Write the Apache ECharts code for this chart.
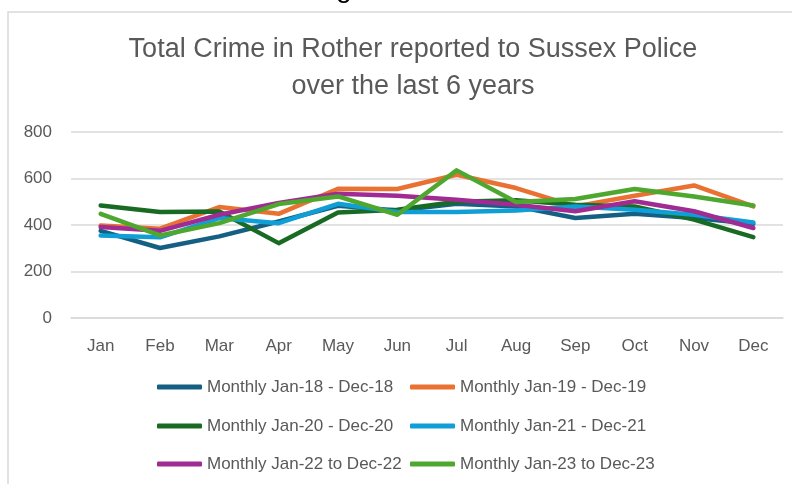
<!DOCTYPE html>
<html>
<head>
<meta charset="utf-8">
<script src="https://cdn.jsdelivr.net/npm/echarts@6/dist/echarts.min.js"></script>
<style>
  html, body { margin: 0; padding: 0; background: #fff; }
  #chart { width: 792px; height: 484px; }
</style>
</head>
<body>
<div id="chart"></div>
<script>
const months = ['Jan','Feb','Mar','Apr','May','Jun','Jul','Aug','Sep','Oct','Nov','Dec'];
const seriesNames = [
  'Monthly Jan-18 - Dec-18',
  'Monthly Jan-19 - Dec-19',
  'Monthly Jan-20 - Dec-20',
  'Monthly Jan-21 - Dec-21',
  'Monthly Jan-22 to Dec-22',
  'Monthly Jan-23 to Dec-23'
];
const y2018 = [375, 301, 351, 415, 483, 462, 491, 480, 430, 448, 430, 405];
const y2019 = [398, 384, 477, 448, 556, 555, 616, 559, 480, 526, 570, 480];
const y2020 = [484, 456, 458, 322, 454, 466, 500, 506, 487, 480, 423, 348];
const y2021 = [355, 347, 430, 408, 491, 456, 456, 462, 480, 466, 444, 411];
const y2022 = [391, 375, 444, 495, 534, 526, 509, 487, 459, 502, 459, 387];
const y2023 = [448, 355, 408, 490, 523, 444, 635, 499, 512, 555, 523, 484];
const yTicks = [0, 200, 400, 600, 800];

const colors = ['#156082', '#E97132', '#196B24', '#0F9ED5', '#A02B93', '#4EA72E'];
const allData = [y2018, y2019, y2020, y2021, y2022, y2023];
const fontFam = '"Liberation Sans", Arial, sans-serif';

// legend placement: column lefts and row centres
const legendCols = [157, 410];
const legendRows = [387, 426, 464];

const legends = seriesNames.map((name, i) => ({
  orient: 'horizontal',
  left: legendCols[i % 2],
  top: legendRows[Math.floor(i / 2)] - 10,
  padding: 0,
  itemWidth: 45,
  itemHeight: 5,
  icon: 'roundRect',
  data: [name],
  textStyle: { fontFamily: fontFam, fontSize: 17, color: '#595959', lineHeight: 20 }
}));

const chart = echarts.init(document.getElementById('chart'), null, { renderer: 'canvas' });
chart.setOption({
  animation: false,
  backgroundColor: '#ffffff',
  color: colors,
  title: {
    text: 'Total Crime in Rother reported to Sussex Police\nover the last 6 years',
    left: 408,
    textAlign: 'center',
    top: 26,
    textStyle: { fontFamily: fontFam, fontSize: 27, fontWeight: 'normal', color: '#595959', lineHeight: 37 }
  },
  graphic: [
    { type: 'rect', shape: { x: 8, y: 12, width: 820, height: 520 }, style: { fill: 'none', stroke: '#d9d9d9', lineWidth: 1.5 }, silent: true },
    { type: 'text', x: 336, y: -11, style: { text: 'g', fontSize: 28, fontFamily: fontFam, fill: '#000', verticalAlign: 'middle' }, silent: true }
  ],
  legend: legends,
  grid: { left: 71, right: 9, top: 132, bottom: 166, containLabel: false },
  xAxis: {
    type: 'category',
    data: months,
    boundaryGap: true,
    axisLine: { show: true, lineStyle: { color: '#d9d9d9', width: 1.5 } },
    axisTick: { show: false },
    axisLabel: { fontFamily: fontFam, fontSize: 17, color: '#595959', margin: 20 }
  },
  yAxis: {
    type: 'value',
    min: yTicks[0],
    max: yTicks[yTicks.length - 1],
    interval: 200,
    axisLine: { show: false },
    axisTick: { show: false },
    splitLine: { lineStyle: { color: '#d9d9d9', width: 1.5 } },
    axisLabel: { fontFamily: fontFam, fontSize: 17, color: '#595959', margin: 19 }
  },
  series: allData.map((d, i) => ({
    name: seriesNames[i],
    type: 'line',
    data: d,
    symbol: 'none',
    lineStyle: { width: 4.5, color: colors[i], cap: 'round', join: 'round' },
    itemStyle: { color: colors[i] }
  }))
});
</script>
</body>
</html>
